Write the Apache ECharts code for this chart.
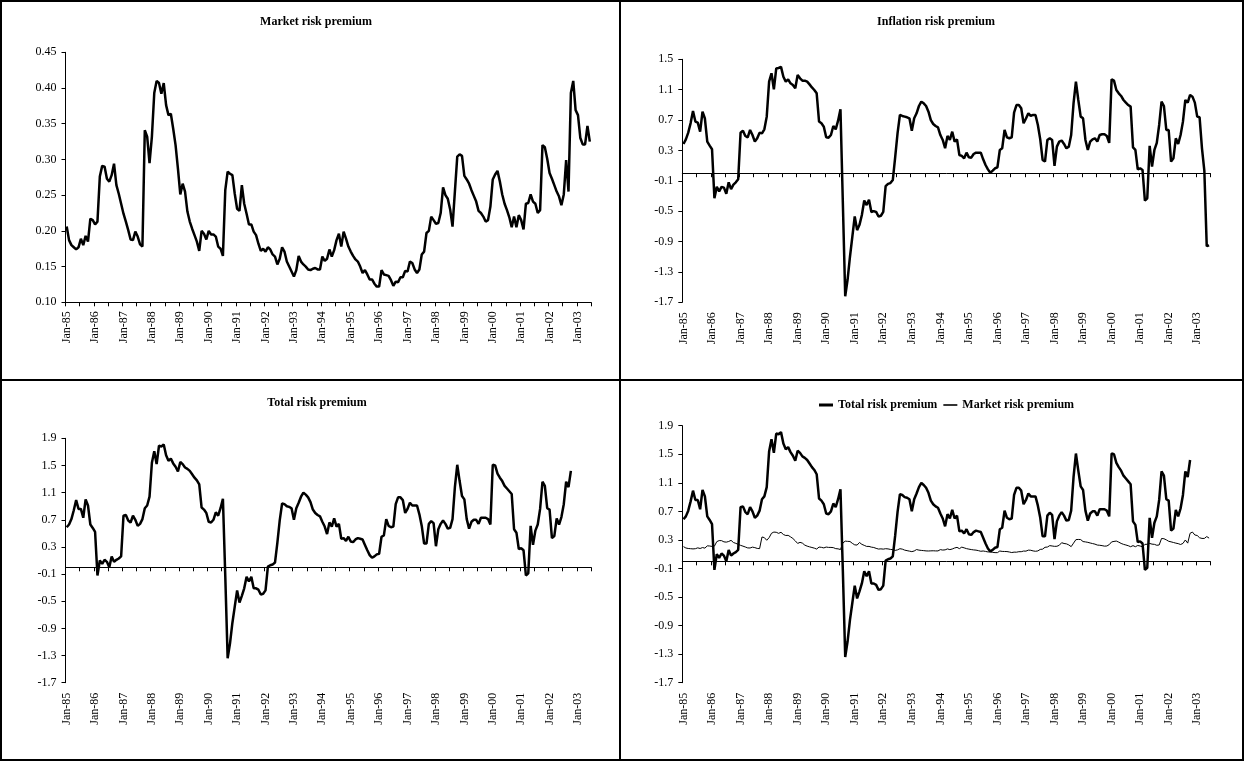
<!DOCTYPE html>
<html>
<head>
<meta charset="utf-8">
<script src="https://cdn.jsdelivr.net/npm/echarts@6/dist/echarts.min.js"></script>
<style>
html,body{margin:0;padding:0;background:#fff;}
#chart{width:1245px;height:762px;}
</style>
</head>
<body>
<div id="chart"></div>
<script>
// ---- DATA ----
const MONTHS = ['Jan','Feb','Mar','Apr','May','Jun','Jul','Aug','Sep','Oct','Nov','Dec'];
const START_YEAR = 1985;
const N_MONTHS = 222; // Jan-85 .. Jun-03
const categories = [];
for (let i = 0; i < N_MONTHS; i++) {
  const y = START_YEAR + Math.floor(i / 12);
  categories.push(MONTHS[i % 12] + '-' + String(y % 100).padStart(2, '0'));
}

const marketRiskPremium = [
  0.206,0.187,0.180,0.177,0.174,0.177,0.189,0.180,0.193,0.185,
  0.217,0.215,0.209,0.213,0.276,0.291,0.290,0.273,0.269,0.278,
  0.294,0.264,0.252,0.238,0.224,0.213,0.201,0.188,0.187,0.199,
  0.192,0.181,0.178,0.341,0.332,0.295,0.332,0.393,0.410,0.407,
  0.392,0.407,0.376,0.362,0.364,0.343,0.320,0.287,0.251,0.266,
  0.255,0.227,0.213,0.203,0.194,0.185,0.172,0.200,0.196,0.188,
  0.200,0.195,0.195,0.192,0.178,0.175,0.165,0.257,0.283,0.280,
  0.278,0.252,0.231,0.228,0.264,0.238,0.224,0.209,0.209,0.199,
  0.194,0.182,0.172,0.175,0.171,0.177,0.174,0.167,0.164,0.153,
  0.161,0.177,0.171,0.157,0.150,0.143,0.136,0.145,0.165,0.157,
  0.153,0.150,0.146,0.145,0.147,0.148,0.146,0.146,0.164,0.158,
  0.161,0.174,0.164,0.173,0.187,0.196,0.178,0.199,0.189,0.178,
  0.171,0.165,0.160,0.157,0.150,0.141,0.145,0.139,0.132,0.132,
  0.126,0.122,0.122,0.145,0.139,0.138,0.137,0.131,0.123,0.129,
  0.128,0.135,0.135,0.144,0.143,0.157,0.155,0.146,0.141,0.146,
  0.167,0.171,0.197,0.200,0.220,0.215,0.210,0.211,0.225,0.261,
  0.250,0.245,0.230,0.206,0.255,0.304,0.307,0.305,0.277,0.272,
  0.266,0.257,0.249,0.241,0.228,0.225,0.220,0.213,0.215,0.234,
  0.272,0.279,0.284,0.269,0.251,0.238,0.229,0.219,0.205,0.220,
  0.205,0.222,0.215,0.202,0.238,0.239,0.251,0.241,0.238,0.225,
  0.229,0.320,0.317,0.301,0.281,0.273,0.264,0.255,0.248,0.236,
  0.251,0.299,0.255,0.393,0.410,0.369,0.362,0.330,0.321,0.321,
  0.347,0.325
];

const inflationRiskPremium = [
  0.385,0.446,0.534,0.66,0.82,0.68,0.666,0.547,0.81,0.72,
  0.416,0.363,0.315,-0.33,-0.18,-0.24,-0.18,-0.19,-0.27,-0.12,
  -0.21,-0.15,-0.12,-0.08,0.534,0.56,0.49,0.473,0.57,0.503,
  0.416,0.46,0.534,0.525,0.578,0.745,1.206,1.316,1.105,1.38,
  1.386,1.40,1.27,1.206,1.236,1.184,1.162,1.118,1.294,1.25,
  1.219,1.219,1.206,1.17,1.13,1.096,1.052,0.68,0.657,0.613,
  0.473,0.468,0.503,0.622,0.578,0.692,0.842,-0.39,-1.62,-1.40,
  -1.10,-0.835,-0.57,-0.75,-0.68,-0.55,-0.36,-0.42,-0.35,-0.51,
  -0.50,-0.51,-0.57,-0.56,-0.51,-0.17,-0.14,-0.13,-0.09,0.21,
  0.525,0.767,0.754,0.745,0.736,0.723,0.56,0.723,0.789,0.885,
  0.942,0.92,0.885,0.81,0.70,0.648,0.622,0.604,0.503,0.438,
  0.33,0.49,0.438,0.547,0.416,0.446,0.24,0.227,0.196,0.271,
  0.209,0.205,0.253,0.271,0.271,0.271,0.183,0.108,0.051,0.005,
  0.034,0.065,0.078,0.306,0.328,0.569,0.473,0.46,0.473,0.798,
  0.898,0.898,0.855,0.657,0.72,0.789,0.754,0.767,0.767,0.635,
  0.446,0.175,0.153,0.438,0.46,0.438,0.096,0.35,0.416,0.43,
  0.385,0.328,0.35,0.503,0.92,1.206,0.964,0.745,0.723,0.438,
  0.306,0.416,0.446,0.46,0.416,0.503,0.512,0.512,0.49,0.40,
  1.236,1.219,1.096,1.052,1.017,0.964,0.929,0.898,0.877,0.34,
  0.306,0.05,0.065,0.043,-0.36,-0.33,0.36,0.087,0.306,0.40,
  0.635,0.942,0.885,0.569,0.569,0.153,0.196,0.46,0.385,0.503,
  0.679,0.964,0.929,1.03,1.008,0.929,0.745,0.736,0.328,0.03,
  -0.96,-0.95
];

const totalRiskPremium = [
  0.59,0.63,0.71,0.84,0.99,0.86,0.86,0.73,1.00,0.91,
  0.63,0.58,0.52,-0.12,0.10,0.05,0.11,0.08,0.00,0.16,
  0.08,0.11,0.13,0.16,0.76,0.77,0.69,0.66,0.76,0.70,
  0.61,0.64,0.71,0.87,0.91,1.04,1.54,1.71,1.52,1.79,
  1.78,1.81,1.65,1.57,1.60,1.53,1.48,1.41,1.55,1.52,
  1.47,1.45,1.42,1.37,1.32,1.28,1.22,0.88,0.85,0.80,
  0.67,0.66,0.70,0.81,0.76,0.87,1.01,-0.13,-1.34,-1.12,
  -0.82,-0.58,-0.34,-0.52,-0.42,-0.31,-0.14,-0.21,-0.14,-0.31,
  -0.31,-0.33,-0.40,-0.39,-0.34,0.01,0.03,0.04,0.07,0.36,
  0.69,0.94,0.93,0.90,0.89,0.87,0.70,0.87,0.95,1.04,
  1.10,1.07,1.03,0.96,0.85,0.80,0.77,0.75,0.67,0.60,
  0.49,0.66,0.60,0.72,0.60,0.64,0.42,0.43,0.39,0.45,
  0.38,0.37,0.41,0.43,0.42,0.41,0.33,0.25,0.18,0.14,
  0.16,0.19,0.20,0.45,0.47,0.71,0.61,0.59,0.60,0.93,
  1.03,1.03,0.99,0.80,0.86,0.95,0.91,0.91,0.91,0.78,
  0.61,0.35,0.35,0.64,0.68,0.65,0.31,0.56,0.64,0.69,
  0.64,0.57,0.58,0.71,1.18,1.51,1.27,1.05,1.00,0.71,
  0.57,0.67,0.70,0.70,0.64,0.73,0.73,0.73,0.71,0.63,
  1.51,1.50,1.38,1.32,1.27,1.20,1.16,1.12,1.08,0.56,
  0.51,0.27,0.28,0.25,-0.12,-0.09,0.61,0.33,0.54,0.63,
  0.86,1.26,1.20,0.87,0.85,0.43,0.46,0.72,0.63,0.74,
  0.93,1.26,1.18,1.42
];

const titles = ['Market risk premium', 'Inflation risk premium', 'Total risk premium'];
const legendNames = ['Total risk premium', 'Market risk premium'];

// ---- CHART ----
const FONT = '"Liberation Serif", "Times New Roman", serif';
const labelStyle = { fontFamily: FONT, fontSize: 12, color: '#000' };
const axisLineStyle = { color: '#000', width: 1 };

const grids = [
  { left: 65.5, top: 52.3, width: 525.5, height: 250 },
  { left: 682.3, top: 59.3, width: 528, height: 243 },
  { left: 65.5, top: 438.3, width: 525.5, height: 244.4 },
  { left: 682.3, top: 425.7, width: 528, height: 257 }
].map(g => Object.assign({ outerBoundsMode: 'none', containLabel: false }, g));

function fullXAxis(gi) {
  return {
    type: 'category', gridIndex: gi, data: categories, boundaryGap: true, position: 'bottom',
    axisLine: { show: true, onZero: false, lineStyle: axisLineStyle },
    axisTick: { show: true, interval: 5, length: 4, lineStyle: axisLineStyle },
    axisLabel: Object.assign({ interval: 11, rotate: 90, margin: 9 }, labelStyle),
    splitLine: { show: false }
  };
}
function labelXAxis(gi) {
  return {
    type: 'category', gridIndex: gi, data: categories, boundaryGap: true, position: 'bottom',
    axisLine: { show: false, onZero: false },
    axisTick: { show: false },
    axisLabel: Object.assign({ interval: 11, rotate: 90, margin: 10 }, labelStyle),
    splitLine: { show: false }
  };
}
function zeroXAxis(gi) {
  return {
    type: 'category', gridIndex: gi, data: categories, boundaryGap: true, position: 'bottom',
    axisLine: { show: true, onZero: true, lineStyle: axisLineStyle },
    axisTick: { show: true, interval: 5, length: 4, lineStyle: axisLineStyle },
    axisLabel: { show: false },
    splitLine: { show: false }
  };
}
function yAxis(gi, min, max, interval, dec) {
  return {
    type: 'value', gridIndex: gi, min: min, max: max, interval: interval,
    axisLine: { show: true, lineStyle: axisLineStyle },
    axisTick: { show: true, length: 4, lineStyle: axisLineStyle },
    axisLabel: Object.assign({ margin: 9, formatter: v => v.toFixed(dec) }, labelStyle),
    splitLine: { show: false }
  };
}
function lineSeries(name, data, xi, yi, w) {
  return {
    name: name, type: 'line', data: data, xAxisIndex: xi, yAxisIndex: yi,
    symbol: 'none', showSymbol: false, smooth: false, connectNulls: false,
    lineStyle: { color: '#000', width: w }, itemStyle: { color: '#000' },
    emphasis: { disabled: true }, silent: true
  };
}

const titleFont = 'bold 12px ' + FONT;
const option = {
  animation: false,
  backgroundColor: '#fff',
  grid: grids,
  xAxis: [fullXAxis(0), labelXAxis(1), zeroXAxis(1), labelXAxis(2), zeroXAxis(2), labelXAxis(3), zeroXAxis(3)],
  yAxis: [
    yAxis(0, 0.10, 0.45, 0.05, 2),
    yAxis(1, -1.7, 1.5, 0.4, 1),
    yAxis(2, -1.7, 1.9, 0.4, 1),
    yAxis(3, -1.7, 1.9, 0.4, 1)
  ],
  legend: {
    show: true, orient: 'horizontal', left: 814, top: 394, itemWidth: 14, itemHeight: 10, itemGap: 6,
    symbolKeepAspect: true, selectedMode: false,
    data: [
      { name: legendNames[0], icon: 'path://M0 0H14V3H0Z', itemStyle: { color: '#000' } },
      { name: legendNames[1], icon: 'path://M0 0H14V1.6H0Z', itemStyle: { color: '#000' } }
    ],
    textStyle: { fontFamily: FONT, fontSize: 12, fontWeight: 'bold', color: '#000' }
  },
  series: [
    lineSeries(titles[0], marketRiskPremium, 0, 0, 2.5),
    lineSeries(titles[1], inflationRiskPremium, 1, 1, 2.5),
    lineSeries(titles[2], totalRiskPremium, 3, 2, 2.5),
    lineSeries(legendNames[0], totalRiskPremium, 5, 3, 2.5),
    lineSeries(legendNames[1], marketRiskPremium, 5, 3, 1)
  ],
  graphic: [
    { type: 'rect', shape: { x: 1, y: 1, width: 1242, height: 759 }, style: { fill: 'none', stroke: '#000', lineWidth: 2 }, silent: true },
    { type: 'line', shape: { x1: 620, y1: 0, x2: 620, y2: 761 }, style: { stroke: '#000', lineWidth: 2 }, silent: true },
    { type: 'line', shape: { x1: 0, y1: 380, x2: 1244, y2: 380 }, style: { stroke: '#000', lineWidth: 2 }, silent: true },
    { type: 'text', x: 316, y: 22, style: { text: titles[0], font: titleFont, fill: '#000', align: 'center', verticalAlign: 'middle' }, silent: true },
    { type: 'text', x: 936, y: 22, style: { text: titles[1], font: titleFont, fill: '#000', align: 'center', verticalAlign: 'middle' }, silent: true },
    { type: 'text', x: 317, y: 403, style: { text: titles[2], font: titleFont, fill: '#000', align: 'center', verticalAlign: 'middle' }, silent: true }
  ]
};

const chart = echarts.init(document.getElementById('chart'), null, { renderer: 'canvas' });
chart.setOption(option);
</script>
</body>
</html>
